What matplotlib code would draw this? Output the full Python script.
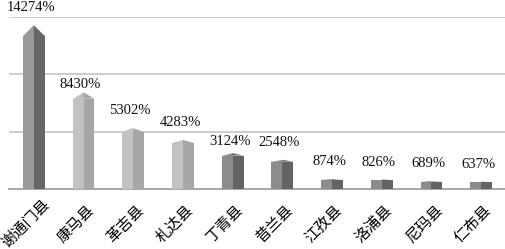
import matplotlib
matplotlib.use("Agg")
import matplotlib.pyplot as plt
import matplotlib.transforms as mtransforms
import numpy as np

# county names and growth (%)
counties = ["谢通门县", "康马县", "革吉县", "札达县", "丁青县",
            "昔兰县", "江孜县", "洛浦县", "尼玛县", "仁布县"]
values = [14274, 8430, 5302, 4283, 3124, 2548, 874, 826, 689, 637]
# colour group of each bar: 0 dark, 1 light, 2 mid
groups = [0, 1, 1, 1, 2, 2, 2, 2, 2, 2]

face_left = ["#9a9a9a", "#c2c2c2", "#8c8c8c"]
face_right = ["#666666", "#a6a6a6", "#636363"]

plt.rcParams['font.family'] = ['Liberation Serif', 'Noto Sans CJK SC', 'DejaVu Sans']

fig = plt.figure(figsize=(5.06, 2.49), dpi=100)
ax = fig.add_axes([9/506, 1 - 189/249, 497/506, 172/249])

x = np.arange(len(values))
w = 0.22  # half width of a column
vals = np.array(values, dtype=float)
cap = vals * 0.065
body = vals - cap

lc = [face_left[g] for g in groups]
rc = [face_right[g] for g in groups]
ax.bar(x - w, body, width=w, align='edge', color=lc, zorder=3, linewidth=0)
ax.bar(x, body, width=w, align='edge', color=rc, zorder=3, linewidth=0)

# label gap above the tip, px (Excel placed a couple of them lower)
gap = {1: 1, 4: 5}
for i in range(len(values)):
    ax.fill([x[i] - w, x[i], x[i]], [body[i], body[i], vals[i]],
            color=lc[i], zorder=3, lw=0)
    ax.fill([x[i], x[i] + w, x[i]], [body[i], body[i], vals[i]],
            color=rc[i], zorder=3, lw=0)
    ax.annotate(f"{values[i]}%", (x[i], values[i]), xytext=(-3, gap.get(i, 11)),
                textcoords='offset pixels', ha='center', va='bottom',
                fontsize=10.5, color='#111111', annotation_clip=False)

ax.set_xlim(-0.5, len(values) - 0.5)
ax.set_ylim(0, 15000)
ax.set_yticks([5000, 10000, 15000])
ax.yaxis.grid(True, color='#c8c8c8', lw=1.3, zorder=0)
ax.tick_params(axis='y', left=False, labelleft=False)
ax.tick_params(axis='x', length=0, pad=25)
ax.set_xticks(x)
ax.set_xticklabels(counties, rotation=45, ha='center', va='center',
                   rotation_mode='anchor', fontsize=11,
                   family=['Noto Sans CJK SC', 'DejaVu Sans'])
shift = mtransforms.ScaledTranslation(-0.08, 0, fig.dpi_scale_trans)
for lab in ax.get_xticklabels():
    lab.set_transform(lab.get_transform() + shift)
for s in ['top', 'right', 'left']:
    ax.spines[s].set_visible(False)
ax.spines['bottom'].set_color('#a0a0a0')
ax.spines['bottom'].set_linewidth(1.3)

fig.savefig("out.png", dpi=100)
